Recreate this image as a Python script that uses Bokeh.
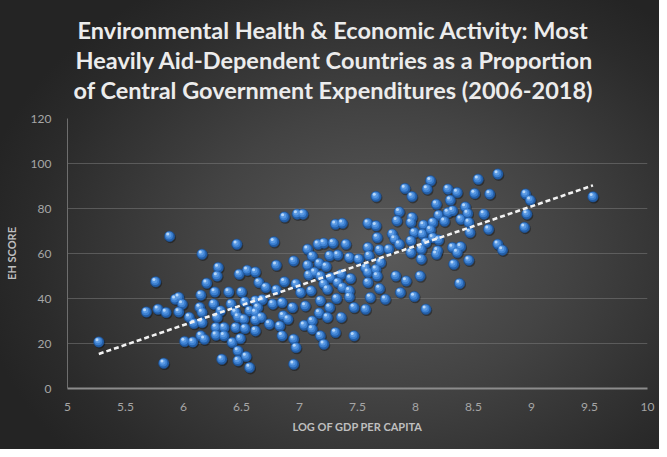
import numpy as np
from bokeh.plotting import figure
from bokeh.models import Title, FixedTicker, Range1d
from bokeh.embed import file_html
from bokeh.resources import INLINE

# ---- data ----
log_gdp = [
    5.27, 5.68, 5.76, 5.78, 5.85, 5.83, 5.88, 5.93, 5.96, 5.99, 5.96, 6.01, 6.08, 6.05, 6.09,
    6.15, 6.14, 6.16, 6.16, 6.15, 6.18, 6.16, 6.20,
    6.30, 6.29, 6.55, 6.62, 6.48, 6.65, 6.71, 6.80, 6.87, 6.27, 6.39, 6.50, 6.26, 6.41, 6.53,
    6.62, 6.77, 6.85, 6.32, 6.45, 6.57, 6.62, 6.67, 6.29, 6.52, 6.74, 6.83, 6.28, 6.35, 6.45,
    6.53, 6.62, 6.28, 6.35, 6.49, 6.42, 6.85, 6.33, 6.47, 6.47, 6.54, 6.57, 6.46, 6.78, 6.87,
    6.80, 6.47, 6.62, 6.64, 6.68, 6.86,
    6.98, 7.03, 7.31, 7.37, 6.95, 7.07, 7.16, 7.21, 7.29, 7.40, 7.11, 7.26, 7.33, 7.43, 7.51,
    7.07, 7.17, 7.23, 7.13, 7.08, 7.18, 7.27, 7.36, 7.44, 7.57, 6.97, 7.21, 7.24, 7.10, 7.01,
    7.33, 7.37, 7.43, 7.43, 6.94, 7.05, 7.18, 7.26, 7.32, 7.47, 6.90, 7.04, 7.11, 7.17, 7.24,
    7.36, 7.11, 7.18, 7.21, 7.31, 7.47, 6.95, 6.97, 6.95,
    7.59, 7.59, 7.60, 7.59, 7.59, 7.57, 7.61, 8.13, 8.10, 7.91, 7.97, 7.66, 8.28, 8.18, 7.86,
    8.20, 8.28, 8.25, 7.84, 7.97, 7.96, 7.66, 8.07, 7.99, 8.06, 8.13, 8.15, 7.80, 7.82, 7.67,
    7.96, 8.09, 8.20, 8.19, 7.69, 7.96, 8.05, 7.70, 7.66, 7.67, 7.83, 7.92, 8.04, 7.69, 7.87,
    7.99, 7.74, 8.09, 8.15, 8.18, 7.77, 7.86, 8.05,
    8.71, 8.54, 8.51, 8.64, 8.36, 8.30, 8.95, 8.99, 8.96, 8.94, 9.53, 8.43, 8.32, 8.45, 8.59,
    8.39, 8.46, 8.47, 8.63, 8.71, 8.75, 8.32, 8.39, 8.36, 8.33, 8.46, 8.38,
]
eh_score = [
    20.7, 34.0, 47.4, 35.2, 33.8, 11.2, 67.6, 39.7, 40.5, 37.5, 34.0, 20.9, 20.7, 31.6, 28.9,
    41.5, 36.0, 33.8, 29.3, 23.4, 21.9, 59.7, 46.8,
    53.8, 50.0, 52.5, 51.8, 50.8, 47.1, 44.9, 43.8, 47.4, 42.9, 42.9, 42.9, 37.5, 37.5, 38.5,
    39.0, 37.5, 38.2, 34.5, 33.8, 34.5, 33.8, 31.6, 31.6, 30.8, 28.6, 27.8, 27.1, 27.1, 27.1,
    26.7, 25.6, 23.7, 23.4, 22.2, 20.4, 23.4, 13.0, 16.7, 12.3, 14.2, 9.3, 64.1, 65.2, 76.2,
    54.8, 31.8, 30.5, 36.0, 39.5, 32.3,
    77.5, 77.5, 73.0, 73.4, 56.7, 61.9, 64.1, 64.6, 64.6, 64.1, 58.8, 59.0, 59.3, 58.2, 57.5,
    54.8, 55.6, 54.2, 51.6, 50.4, 50.0, 49.3, 50.8, 48.9, 53.5, 46.4, 46.4, 44.1, 43.4, 42.7,
    47.1, 44.9, 43.4, 40.7, 36.0, 36.7, 39.0, 36.0, 40.0, 36.0, 30.8, 28.1, 30.0, 33.5, 31.6,
    31.6, 26.4, 23.4, 19.7, 24.9, 23.4, 21.9, 18.2, 10.8,
    73.4, 62.7, 59.0, 51.6, 47.1, 35.2, 40.4, 92.3, 88.6, 88.9, 85.3, 85.3, 88.6, 81.9, 78.5,
    77.0, 78.2, 74.3, 74.5, 76.0, 73.8, 72.3, 72.6, 69.3, 68.6, 70.5, 67.0, 68.6, 66.4, 67.1,
    65.6, 64.9, 66.0, 61.2, 61.6, 60.4, 57.5, 56.0, 53.0, 50.0, 50.0, 47.8, 50.0, 44.4, 42.7,
    40.9, 39.7, 35.2, 73.8, 59.7, 61.9, 64.1, 61.9,
    95.3, 93.0, 86.7, 86.4, 87.1, 83.7, 86.4, 83.7, 77.5, 71.6, 85.2, 80.7, 79.0, 77.8, 77.5,
    75.2, 73.8, 69.3, 70.8, 64.1, 61.5, 62.7, 63.0, 60.4, 55.2, 57.0, 46.7,
]
x_ticks = [5, 5.5, 6, 6.5, 7, 7.5, 8, 8.5, 9, 9.5, 10]
y_ticks = [0, 20, 40, 60, 80, 100, 120]
title_lines = [
    "Environmental Health &  Economic Activity: Most",
    "Heavily Aid-Dependent Countries as a Proportion",
    "of Central Government Expenditures (2006-2018)",
]
x_label = "LOG OF GDP PER CAPITA"
y_label = "EH SCORE"

xs = np.array(log_gdp)
ys = np.array(eh_score)

W, H = 659, 449
BL, BR, BT, BB = 67, 12, 118, 61
fw = W - BL - BR
fh = H - BT - BB
px_x = (x_ticks[-1] - x_ticks[0]) / fw
px_y = (y_ticks[-1] - y_ticks[0]) / fh

p = figure(width=W, height=H, output_backend="svg", toolbar_location=None,
           x_range=Range1d(x_ticks[0], x_ticks[-1]), y_range=Range1d(y_ticks[0], y_ticks[-1]),
           min_border_left=BL, min_border_right=BR, min_border_top=BT, min_border_bottom=BB,
           background_fill_color=None, border_fill_color=None, outline_line_color=None)
p.styles = {"background-image": "radial-gradient(ellipse 62% 70% at 58% 56%, #5a5a5a 0%, #434343 45%, #2b2b2b 85%, #242424 100%)",
            "background-color": "#2a2a2a"}

# thin spacer between the title block and the plot area
p.add_layout(Title(text=" ", text_font_size="1px", standoff=12), "above")
# title lines, left aligned with per-line offsets so that the block is centred
title_offsets = [10, 8, 6]
for line, off in reversed(list(zip(title_lines, title_offsets))):
    p.add_layout(Title(text=line, align="left", offset=off, standoff=0,
                       text_color="#ececec", text_font="Lato", text_font_size="23.5px",
                       text_font_style="bold", text_line_height=0.92), "above")

# axes
for ax in (p.xaxis[0], p.yaxis[0]):
    ax.major_tick_line_color = None
    ax.minor_tick_line_color = None
    ax.major_label_text_color = "#a6a6a6"
    ax.major_label_text_font = "Lato"
    ax.major_label_text_font_size = "12px"
    ax.axis_label_text_color = "#bfbfbf"
    ax.axis_label_text_font = "Lato"
    ax.axis_label_text_font_size = "11px"
    ax.axis_label_text_font_style = "bold"

p.xaxis.ticker = FixedTicker(ticks=x_ticks)
p.yaxis.ticker = FixedTicker(ticks=y_ticks)
p.xaxis.axis_label = x_label
p.yaxis.axis_label = y_label
p.xaxis.axis_line_color = "#8c8c8c"
p.xaxis.axis_line_width = 2
p.yaxis.axis_line_color = "#6e6e6e"
p.yaxis.axis_line_width = 1
p.xaxis.major_label_standoff = 8
p.yaxis.major_label_standoff = 10
p.xaxis.axis_label_standoff = 6
p.yaxis.axis_label_standoff = 10

p.xgrid.grid_line_color = None
p.ygrid.grid_line_color = "#7a7a7a"
p.ygrid.grid_line_alpha = 0.55
p.ygrid.grid_line_width = 1

# spheres
p.scatter(xs + 0.9 * px_x, ys - 1.3 * px_y, size=11, fill_color="black", fill_alpha=0.35, line_color=None)
p.scatter(xs, ys, size=10.5, fill_color="#245ea6", line_color="#1d4f8f", line_width=0.5)
p.scatter(xs - 0.6 * px_x, ys + 0.8 * px_y, size=8, fill_color="#3b7fd0", line_color=None)
p.scatter(xs - 1.0 * px_x, ys + 1.4 * px_y, size=5.5, fill_color="#5b9ae3", line_color=None)
p.scatter(xs - 1.8 * px_x, ys + 2.3 * px_y, size=3, fill_color="#c2defa", fill_alpha=0.9, line_color=None)

# linear trend line
m, b = np.polyfit(xs, ys, 1)
tx = np.array([xs.min(), xs.max()])
p.line(tx, m * tx + b, line_color="#f2f2f2", line_width=2.6, line_dash="5 3")

open("out.html", "w").write(file_html(p, INLINE))
